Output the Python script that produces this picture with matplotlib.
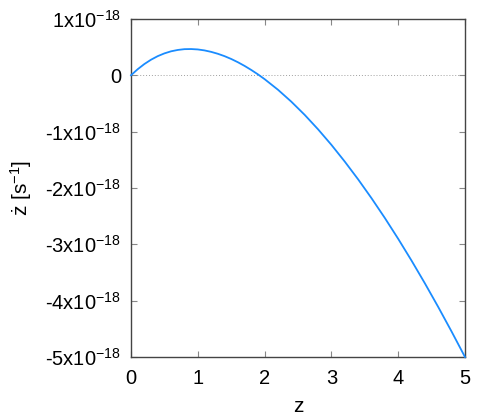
#!/usr/bin/env python3
"""Redshift drift dz/dt versus z."""

import matplotlib
matplotlib.use("Agg")
import matplotlib.pyplot as plt
from matplotlib.ticker import FixedLocator, FuncFormatter

plt.rcParams["font.family"] = ["Liberation Sans", "DejaVu Sans"]
plt.rcParams["mathtext.default"] = "regular"

# values (zdot in units of 1e-18 s^-1)
z = [0.0, 0.1, 0.2, 0.3, 0.4, 0.5, 0.6, 0.7, 0.8, 0.9, 1.0, 1.1, 1.2,
     1.3, 1.4, 1.5, 1.6, 1.7, 1.8, 1.9, 2.0, 2.2, 2.4, 2.6, 2.8, 3.0,
     3.2, 3.4, 3.6, 3.8, 4.0, 4.2, 4.4, 4.6, 4.8, 5.0]
zdot_e18 = [0.0, 0.107, 0.199, 0.276, 0.339, 0.388, 0.425, 0.449, 0.463,
            0.465, 0.458, 0.441, 0.415, 0.381, 0.339, 0.289, 0.231, 0.166,
            0.094, 0.016, -0.069, -0.257, -0.469, -0.703, -0.959, -1.235,
            -1.532, -1.847, -2.181, -2.533, -2.903, -3.290, -3.694, -4.114,
            -4.550, -5.0]
x_ticks = [0, 1, 2, 3, 4, 5]
y_ticks = [1, 0, -1, -2, -3, -4, -5]


def sci_label(v, _pos):
    if v == 0:
        return "0"
    return f"{int(round(v))}x10$^{{-18}}$"


fig = plt.figure(figsize=(5.0, 4.2), dpi=100)
ax = fig.add_axes([0.262, 0.15, 0.668, 0.805])

ax.axhline(0, color="#a0a0a0", lw=0.7, ls=(0, (1, 2)), zorder=1)
ax.plot(z, zdot_e18, color="#1a8cff", lw=1.3, zorder=3, clip_on=False)

ax.set_xlim(0, 5)
ax.set_ylim(-5, 1)
ax.xaxis.set_major_locator(FixedLocator(x_ticks))
ax.yaxis.set_major_locator(FixedLocator(y_ticks))
ax.yaxis.set_major_formatter(FuncFormatter(sci_label))

for s in ax.spines.values():
    s.set_color("#444444")
    s.set_linewidth(1.0)
ax.tick_params(direction="in", length=4, width=0.8, color="#888888",
               top=True, right=True, labelsize=14.5, pad=7)
ax.tick_params(axis="x", pad=9)

ax.set_xlabel("z", fontsize=15, labelpad=6)
ax.set_ylabel("ż [s$^{-1}$]", fontsize=15, labelpad=8)

fig.savefig("out.png", dpi=100)
